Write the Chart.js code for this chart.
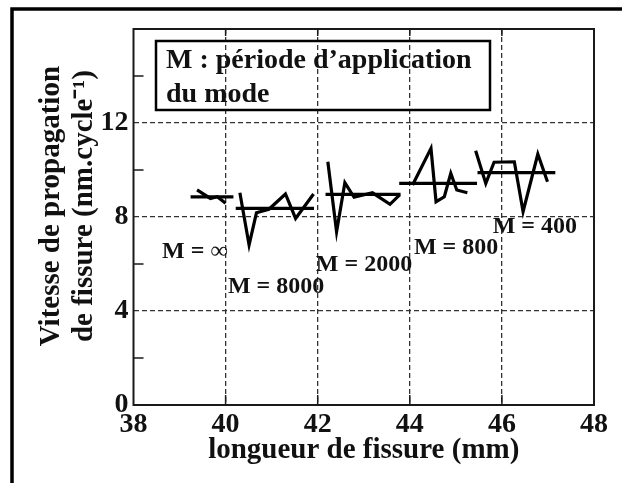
<!DOCTYPE html>
<html><head><meta charset="utf-8">
<script src="https://cdn.jsdelivr.net/npm/chart.js@4"></script>
<style>html,body{margin:0;padding:0;background:#fff;} canvas{display:block;}</style>
</head><body>
<canvas id="c" width="622" height="483"></canvas>
<script>
// ---- data ----
const modeNames = ['M = ∞', 'M = 8000', 'M = 2000', 'M = 800', 'M = 400'];

const crackInf  = [39.38, 39.67, 39.82, 40.00];
const speedInf  = [9.15, 8.79, 8.86, 8.58];
const crack8000 = [40.31, 40.51, 40.67, 40.94, 41.30, 41.52, 41.91];
const speed8000 = [9.03, 6.81, 8.18, 8.33, 8.98, 7.94, 8.98];
const crack2000 = [42.22, 42.41, 42.59, 42.79, 43.19, 43.57, 43.78];
const speed2000 = [10.35, 7.37, 9.46, 8.84, 9.03, 8.54, 8.94];
const crack800  = [44.06, 44.46, 44.57, 44.75, 44.89, 45.02, 45.25];
const speed800  = [9.36, 10.92, 8.65, 8.86, 9.86, 9.15, 9.03];
const crack400  = [45.43, 45.65, 45.83, 46.27, 46.46, 46.78, 46.99];
const speed400  = [10.82, 9.43, 10.33, 10.35, 8.23, 10.68, 9.50];

const meanSpanInf  = [39.24, 40.17]; const meanInf  = 8.86;
const meanSpan8000 = [40.22, 41.92]; const mean8000 = 8.37;
const meanSpan2000 = [42.17, 43.80]; const mean2000 = 8.96;
const meanSpan800  = [43.77, 45.46]; const mean800  = 9.43;
const meanSpan400  = [45.47, 47.16]; const mean400  = 9.89;

const xTickLabels = [38, 40, 42, 44, 46, 48];
const yTickLabels = [0, 4, 8, 12];
const xTitle = 'longueur de fissure (mm)';
const yTitle = ['Vitesse de propagation', 'de fissure (nm.cycle\u207B\u00B9)'];
const legendLines = ['M : période d\u2019application', 'du mode'];

// ---- build ----
const FONT = "'Liberation Serif', 'Times New Roman', serif";
const pts = (xs, ys) => xs.map((v, i) => ({x: v, y: ys[i]}));
const meanPts = (span, m) => span.map(v => ({x: v, y: m}));
const series = [
  [crackInf, speedInf, meanSpanInf, meanInf],
  [crack8000, speed8000, meanSpan8000, mean8000],
  [crack2000, speed2000, meanSpan2000, mean2000],
  [crack800, speed800, meanSpan800, mean800],
  [crack400, speed400, meanSpan400, mean400]
];
const datasets = [];
series.forEach((s, i) => {
  datasets.push({label: modeNames[i], data: pts(s[0], s[1])});
  datasets.push({label: modeNames[i] + ' moyenne', data: meanPts(s[2], s[3])});
});
datasets.forEach(d => Object.assign(d, {showLine: true, borderColor: '#000', borderWidth: 3.2,
  pointRadius: 0, tension: 0, fill: false, borderJoinStyle: 'miter', borderCapStyle: 'butt'}));

const labelAnchors = [[38.62, 6.51], [40.05, 5.02], [41.96, 5.96], [44.09, 6.68], [45.80, 7.57]];
// leading spaces move the rotated title up so it sits where the reference has it
const padTitle = t => '\u0020\u0020\u0020' + t;

const decor = {
  id: 'decor',
  beforeDraw(chart) {
    const ctx = chart.ctx;
    ctx.save(); ctx.fillStyle = '#fff'; ctx.fillRect(0, 0, chart.width, chart.height); ctx.restore();
  },
  afterDraw(chart) {
    const {ctx, chartArea: a, scales: {x, y}} = chart;
    const line = (x1, y1, x2, y2) => { ctx.beginPath(); ctx.moveTo(x1, y1); ctx.lineTo(x2, y2); ctx.stroke(); };
    ctx.save();
    // outer frame
    ctx.strokeStyle = '#000'; ctx.lineWidth = 3.5;
    ctx.beginPath(); ctx.moveTo(12, 500); ctx.lineTo(12, 9); ctx.lineTo(640, 9); ctx.stroke();
    // plot frame
    ctx.strokeStyle = '#1a1a1a'; ctx.lineWidth = 2;
    ctx.strokeRect(a.left, a.top, a.right - a.left, a.bottom - a.top);
    // inner tick marks
    ctx.lineWidth = 1.5;
    [40, 42, 44, 46].forEach(v => { const px = x.getPixelForValue(v); line(px, a.bottom, px, a.bottom - 10); line(px, a.top, px, a.top + 7); });
    [2, 6, 10, 14].forEach(v => { const py = y.getPixelForValue(v); line(a.left, py, a.left + 10, py); });
    // legend box
    const bx = a.left + 22.5, by = a.top + 12;
    ctx.lineWidth = 2.5; ctx.strokeStyle = '#000';
    ctx.strokeRect(bx, by, 334, 69);
    ctx.fillStyle = '#111';
    ctx.font = 'bold 28px ' + FONT;
    ctx.textAlign = 'left'; ctx.textBaseline = 'alphabetic';
    ctx.fillText(legendLines[0], bx + 10, by + 27);
    ctx.fillText(legendLines[1], bx + 10, by + 61);
    // mode labels
    ctx.font = 'bold 24px ' + FONT;
    ctx.textBaseline = 'middle';
    modeNames.forEach((t, i) => {
      ctx.fillText(t, x.getPixelForValue(labelAnchors[i][0]), y.getPixelForValue(labelAnchors[i][1]));
    });
    ctx.restore();
  }
};

new Chart(document.getElementById('c'), {
  type: 'scatter',
  data: {datasets},
  plugins: [decor],
  options: {
    responsive: false, animation: false, devicePixelRatio: 1,
    layout: {padding: {left: 0, top: 29, right: 28, bottom: 0}},
    plugins: {legend: {display: false}, tooltip: {enabled: false}},
    scales: {
      x: {
        type: 'linear', min: 38, max: 48,
        afterFit(s) { s.height = 78; },
        afterBuildTicks(s) { s.ticks = xTickLabels.map(v => ({value: v})); },
        ticks: {font: {family: FONT, size: 28, weight: 'bold'}, color: '#111', padding: 3, maxRotation: 0},
        grid: {drawTicks: false, lineWidth: 1.3,
          color: c => (c.tick && c.tick.value > 38 && c.tick.value < 48) ? '#333' : 'rgba(0,0,0,0)'},
        border: {display: false, dash: [5, 3]},
        title: {display: true, text: xTitle, color: '#111',
          font: {family: FONT, size: 29, weight: 'bold'}, padding: {top: 0, bottom: 15}}
      },
      y: {
        type: 'linear', min: 0, max: 16,
        afterFit(s) { s.width = 133.5; },
        afterBuildTicks(s) { s.ticks = yTickLabels.map(v => ({value: v})); },
        ticks: {font: {family: FONT, size: 28, weight: 'bold'}, color: '#111', padding: 5},
        grid: {drawTicks: false, lineWidth: 1.3,
          color: c => (c.tick && c.tick.value > 0 && c.tick.value < 16) ? '#333' : 'rgba(0,0,0,0)'},
        border: {display: false, dash: [5, 3]},
        title: {display: true, text: yTitle.map(padTitle), color: '#111',
          font: {family: FONT, size: 29, weight: 'bold', lineHeight: '33px'}, padding: {top: 35, bottom: 0}}
      }
    }
  }
});
</script>
</body></html>
